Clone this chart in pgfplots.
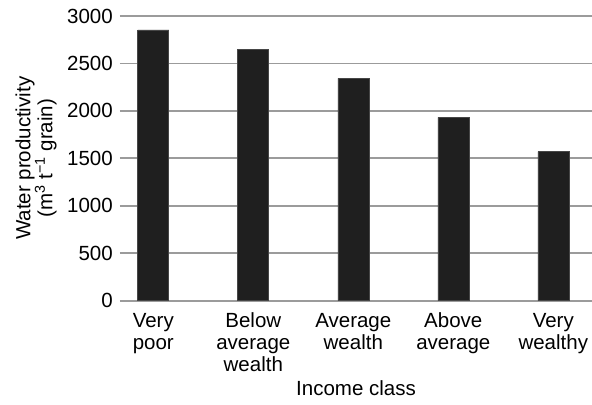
\documentclass[border=0pt]{standalone}
\usepackage{fontspec}
\setmainfont{Liberation Sans}
\usepackage{pgfplots}
\pgfplotsset{compat=1.18}
\definecolor{barfill}{RGB}{31,31,31}
\definecolor{baredge}{RGB}{70,70,70}
\definecolor{gridgray}{RGB}{155,155,155}
\begin{document}
\begin{tikzpicture}[font=\fontsize{20.5}{22}\selectfont]
\begin{axis}[
    width=472pt, height=284.7pt, scale only axis,
    xmin=-0.333, xmax=4.387,
    ymin=0, ymax=3000,
    ytick={0,500,1000,1500,2000,2500,3000},
    xtick={0,1,2,3,4},
    xticklabels={{\strut Very\\\strut poor},{\strut Below\\\strut average\\\strut wealth},{\strut Average\\\strut wealth},{\strut Above\\\strut average},{\strut Very\\\strut wealthy}},
    xticklabel style={align=center, anchor=north, inner sep=0pt, yshift=-11.6pt},
    yticklabel style={anchor=east, inner sep=0pt, xshift=-7pt},
    /pgf/number format/assume math mode=true,
    /pgf/number format/1000 sep={},
    major tick length=0pt,
    axis line style={draw=none},
    ymajorgrids,
    grid style={gridgray, line width=1.8pt},
    xlabel={Income class},
    xlabel style={at={(axis description cs:0.5,0)}, anchor=center, yshift=-87.5pt},
    ylabel={Water productivity\\(m\textsuperscript{3} t\textsuperscript{−1} grain)},
    ylabel style={align=center, at={(axis description cs:0,0.5)}, anchor=center, yshift=84pt},
]
\addplot[ybar, bar width=0.31, fill=barfill, draw=baredge, line width=0.6pt]
    coordinates {(0,2853) (1,2649) (2,2343) (3,1932) (4,1570)};
\coordinate (bl) at (rel axis cs:0,0);
\coordinate (tr) at (rel axis cs:1,1);
\end{axis}
\pgfresetboundingbox
\path ([xshift=-120pt,yshift=-104.3pt]bl) rectangle ([yshift=16pt]tr);
\end{tikzpicture}
\end{document}
